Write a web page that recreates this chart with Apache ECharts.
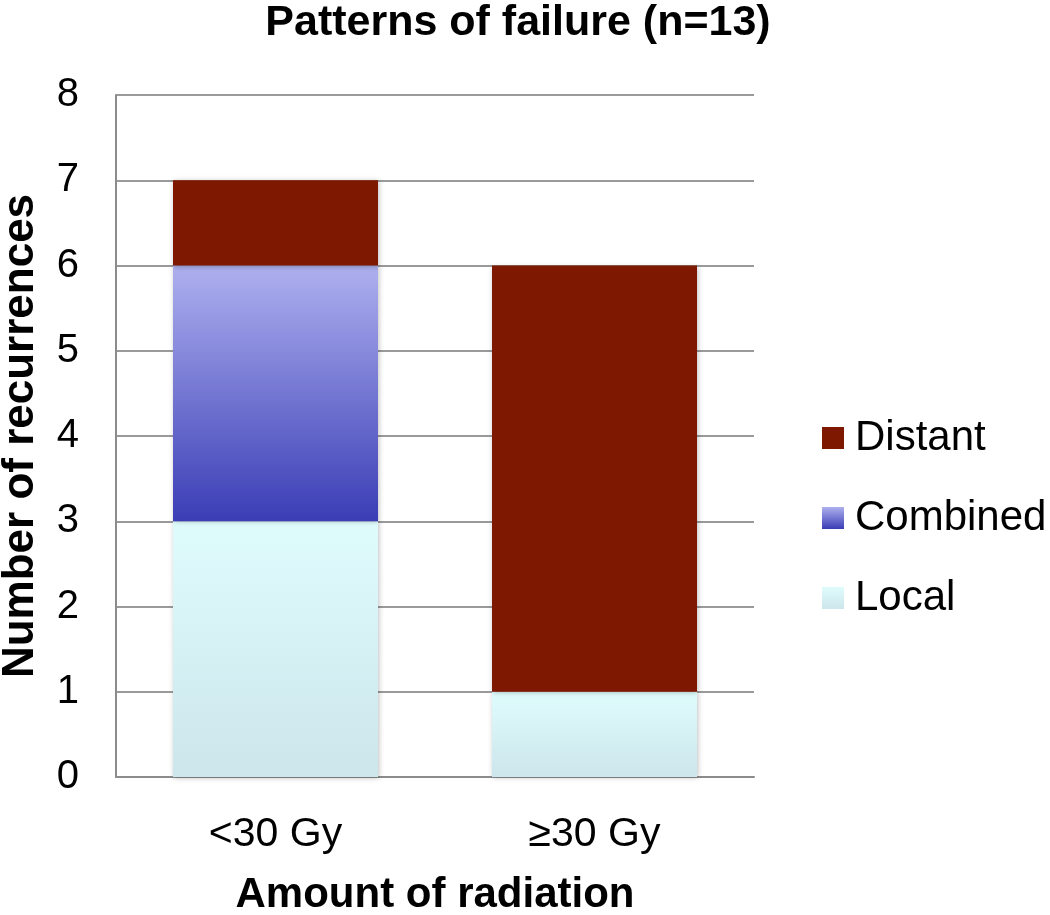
<!DOCTYPE html>
<html>
<head>
<meta charset="utf-8">
<script src="https://cdn.jsdelivr.net/npm/echarts@6/dist/echarts.min.js"></script>
<style>
  html, body { margin: 0; padding: 0; background: #fff; }
  #chart { width: 1050px; height: 915px; }
</style>
</head>
<body>
<div id="chart"></div>
<script>
var categories = ['<30 Gy', '≥30 Gy'];
var localData = [3, 1];
var combinedData = [3, 0];
var distantData = [1, 5];
var yTicks = [0, 1, 2, 3, 4, 5, 6, 7, 8];

var font = 'Liberation Sans, Arial, sans-serif';

function grad(top, bottom) {
  return new echarts.graphic.LinearGradient(0, 0, 0, 1, [
    { offset: 0, color: top },
    { offset: 1, color: bottom }
  ]);
}

var shadow = {
  shadowBlur: 5,
  shadowColor: 'rgba(0,0,0,0.25)',
  shadowOffsetX: 1,
  shadowOffsetY: 1
};

var chart = echarts.init(document.getElementById('chart'));

var option = {
  animation: false,
  textStyle: { fontFamily: font },
  title: {
    text: 'Patterns of failure (n=13)',
    left: 518,
    top: 2,
    padding: 0,
    textAlign: 'center',
    textStyle: { fontSize: 43, fontWeight: 'bold', color: '#000', fontFamily: font }
  },
  legend: {
    orient: 'vertical',
    left: 822,
    top: 417,
    padding: 0,
    itemWidth: 22,
    itemHeight: 22,
    itemGap: 38,
    icon: 'rect',
    data: ['Distant', 'Combined', 'Local'],
    textStyle: { fontSize: 42, color: '#000', fontFamily: font, padding: [0, 0, 0, 6] }
  },
  grid: { left: 116, right: 296, top: 95, bottom: 138, outerBoundsMode: 'none', containLabel: false },
  xAxis: {
    type: 'category',
    data: categories,
    name: 'Amount of radiation',
    nameLocation: 'middle',
    nameGap: 97,
    nameTextStyle: { fontSize: 42, fontWeight: 'bold', color: '#000', fontFamily: font },
    axisLine: { lineStyle: { color: '#8c8c8c', width: 2 } },
    axisTick: { show: false },
    axisLabel: { fontSize: 41, color: '#000', margin: 37, fontFamily: font }
  },
  yAxis: {
    type: 'value',
    min: yTicks[0],
    max: yTicks[yTicks.length - 1],
    interval: 1,
    name: 'Number of recurrences',
    nameLocation: 'middle',
    nameGap: 73,
    nameTextStyle: { fontSize: 44, fontWeight: 'bold', color: '#000', fontFamily: font },
    axisLine: { show: true, lineStyle: { color: '#8c8c8c', width: 2 } },
    axisTick: { show: false },
    axisLabel: { fontSize: 40, color: '#000', margin: 37, fontFamily: font },
    splitLine: { lineStyle: { color: '#9a9a9a', width: 2 } }
  },
  series: [
    {
      name: 'Local',
      type: 'bar',
      stack: 'total',
      barWidth: 205,
      data: localData,
      itemStyle: Object.assign({ color: grad('#dffcfd', '#cce6eb') }, shadow)
    },
    {
      name: 'Combined',
      type: 'bar',
      stack: 'total',
      data: combinedData,
      itemStyle: Object.assign({ color: grad('#aeb0ef', '#3a3db5') }, shadow)
    },
    {
      name: 'Distant',
      type: 'bar',
      stack: 'total',
      data: distantData,
      itemStyle: Object.assign({ color: '#7e1800' }, shadow)
    }
  ]
};

chart.setOption(option);
</script>
</body>
</html>
